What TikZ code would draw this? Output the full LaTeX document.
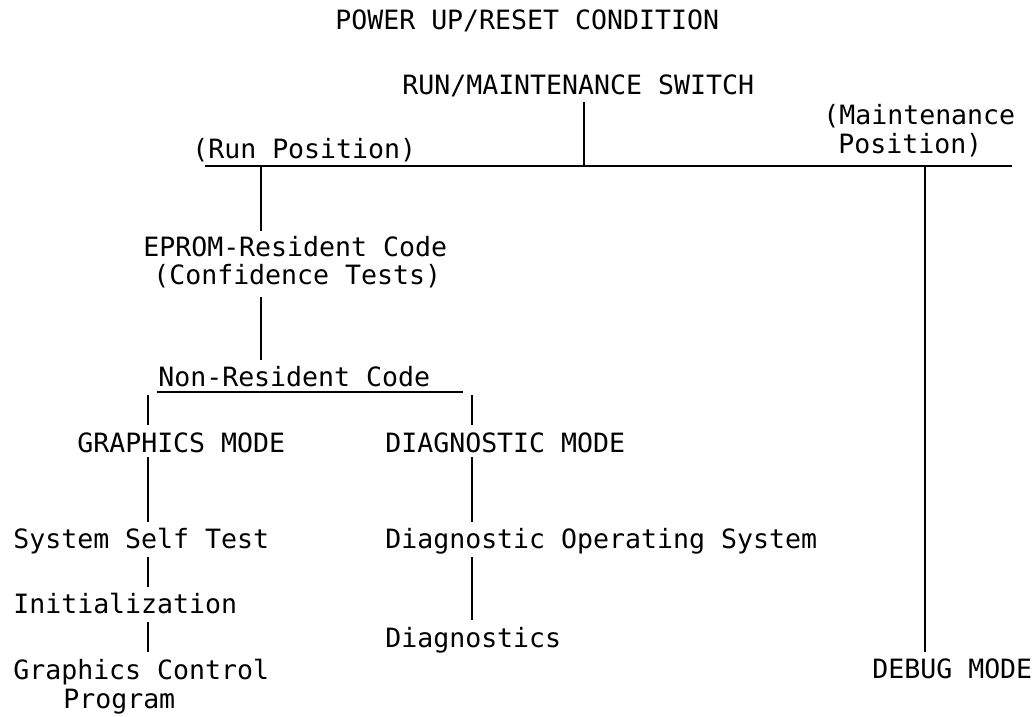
\documentclass[tikz,border=0pt]{standalone}
\usepackage{fontspec}
\newfontfamily\typefont{DejaVu Sans Mono}
\begin{document}
\begin{tikzpicture}[x=0.75pt,y=0.75pt,
  lbl/.style={font=\typefont\fontsize{19.93pt}{24pt}\selectfont,
    inner sep=0pt, anchor=base west, text height=14.6pt, text depth=0pt},
  link/.style={line width=1.5pt}]
\useasboundingbox (0,0) rectangle (1033,-717);

% headings
\node[lbl] (title) at (335,-30) {POWER UP/RESET CONDITION};
\node[lbl] (sw)    at (402,-95) {RUN/MAINTENANCE SWITCH};
\node[lbl] (run)   at (192,-159) {(Run Position)};
\node[lbl] (mnt)   at (823,-125) {(Maintenance};
\node[lbl] (mntb)  at (838,-154) {Position)};

% switch bus
\coordinate (busL) at (205,-166);
\coordinate (busR) at (1012,-166);
\coordinate (jsw)  at (584,-166);
\coordinate (jrun) at (261,-166);
\coordinate (jdbg) at (925,-166);
\draw[link] (busL) -- (busR);
\draw[link] ([yshift=-5.25pt]sw.south -| jsw) -- (jsw);

% run branch
\node[lbl] (ep)   at (143,-256) {EPROM-Resident Code};
\node[lbl] (conf) at (153,-284) {(Confidence Tests)};
\node[lbl] (nr)   at (158,-386) {Non-Resident Code};
\draw[link] (jrun) -- ([yshift=4pt]ep.north -| jrun);
\draw[link] ([yshift=-9.75pt]conf.south -| jrun) -- ([yshift=4.9pt]nr.north -| jrun);

\coordinate (nrL) at (157,-392);
\coordinate (nrR) at (463,-392);
\draw[link] (nrL) -- (nrR);

\coordinate (cg) at (148,-395);
\coordinate (cd) at (472,-395);
\node[lbl] (gm) at (77,-452)  {GRAPHICS MODE};
\node[lbl] (dm) at (385,-452) {DIAGNOSTIC MODE};
\draw[link] (cg) -- ([yshift=5.6pt]gm.north -| cg);
\draw[link] (cd) -- ([yshift=5.6pt]dm.north -| cd);

% graphics mode column
\node[lbl] (sst)  at (13,-548) {System Self Test};
\node[lbl] (init) at (13,-613) {Initialization};
\node[lbl] (gcp)  at (13,-679) {Graphics Control};
\node[lbl] (prog) at (63,-708) {Program};
\draw[link] ([yshift=-3.75pt]gm.south -| cg) -- ([yshift=4.9pt]sst.north -| cg);
\draw[link] ([yshift=-6.75pt]sst.south -| cg) -- ([yshift=4.9pt]init.north -| cg);
\draw[link] ([yshift=-6.75pt]init.south -| cg) -- ([yshift=5.6pt]gcp.north -| cg);

% diagnostic mode column
\node[lbl] (dos)  at (385,-548) {Diagnostic Operating System};
\node[lbl] (diag) at (385,-647) {Diagnostics};
\draw[link] ([yshift=-3.75pt]dm.south -| cd) -- ([yshift=4.9pt]dos.north -| cd);
\draw[link] ([yshift=-6.75pt]dos.south -| cd) -- ([yshift=5.6pt]diag.north -| cd);

% maintenance branch
\node[lbl] (dbg) at (872,-678) {DEBUG MODE};
\draw[link] (jdbg) -- ([yshift=4.9pt]dbg.north -| jdbg);
\end{tikzpicture}
\end{document}
